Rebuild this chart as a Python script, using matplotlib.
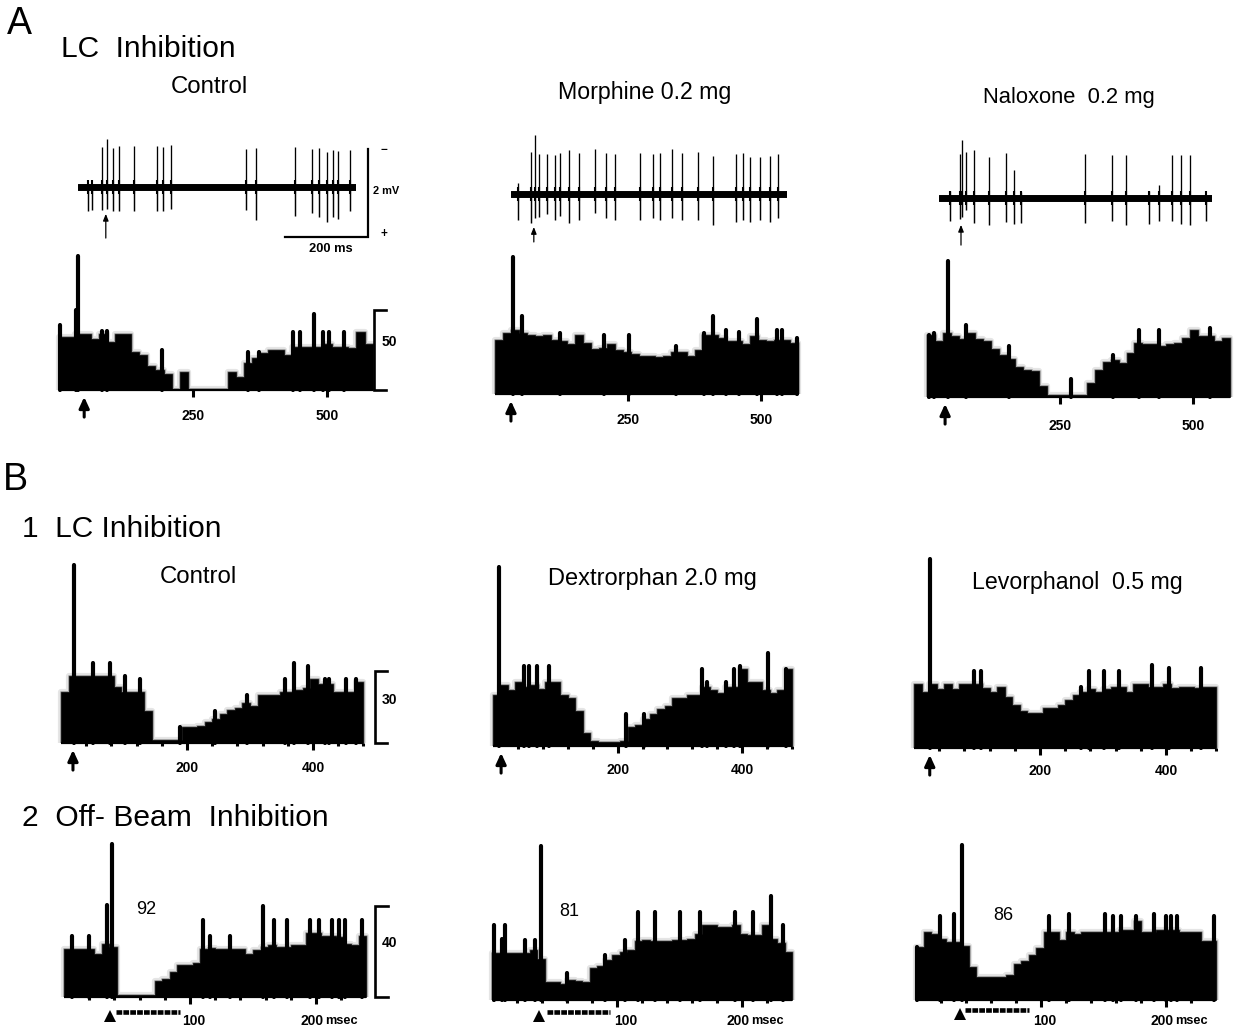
import matplotlib
matplotlib.use("Agg")
import matplotlib.pyplot as plt
import numpy as np

plt.rcParams['font.family'] = ['Liberation Sans', 'DejaVu Sans']
W, H = 1246, 1027
fig = plt.figure(figsize=(W / 100, H / 100), dpi=100, facecolor='white')

# ---------- histogram envelopes (counts per bin) and narrow peaks (ms, counts)
A1_base = [33,33,35,35,32,35,30,35,35,24,22,15,12.5,10,0.5,11,0.5,0.5,0.5,0.5,0.5,11,8,17,20,23,25,25,22,27,27,27,27,29,27,27,26,36,29]
A1_pt = [2,32,36,80,89,193,353,373,437,450,476,493,503,532]
A1_ph = [40.6,50,84,37,37,25,24,24,36,36,47.5,36,36,36]
A2_base = [34,38,40,38,37,36,37,34,33,31,37,32,28,28.5,31,27.5,26.5,25,24,24,23,24,26.5,26.5,24,27.5,37,37,35,33,33,31,36,34,33,34,34,32]
A2_pt = [33,51,123,205,252,341,393,410,435,459,492,531,540,568]
A2_ph = [85.4,49,38,37,37,30,38,49,40,39,47,40,40,35]
A3_base = [39,35,40,38,36,40,36,35,30,26,24,19,17,16,7,1.5,1,1,1.5,1.5,9,17,22,23,21,27.5,34,33,33,32,33,34,37,42,38,38,35,37]
A3_pt = [3,13,39,73,154,271,349,399,437,532]
A3_ph = [39,40,85,45,32,11,26.5,42,42,43]

B1_base = [19,25,25,25,25,25,25,21,19,19,19,12,1,1,1,1,6,6,6.5,8,9,11,12.5,13,15,14,18,18,18,19,19,20,20.6,24,22,22,19,19,19,23]
B1_pt = [21,51,78,102,126,189,245,295,356,370,392,419,426,452,469]
B1_ph = [66.6,30,30,25,24,6,12,18,24,30,29,24,24,24,24]
B2_base = [19,23,21,24,22,23,21.5,24,24,19,18,13,5,2,1.5,1.5,1.5,2,7,8,10,12,14,15,18,18,19,19,22,21,20,22,22,29,24,24,21,20,21,29]
B2_pt = [10,49,58,70,90,213,242,335,344,374,387,396,442,470]
B2_ph = [67,30,30,30,30,12,12,29,24,24,29,30,35,29]
B3_base = [24,21,24,22,24,22,24,24,24,22.5,21,23,19,16,14,13,13,15,15,16,18,20,21,22,21,22,23,23,21,24,24,23,23,24,22.5,23,23,22.5,23,23]
B3_pt = [26,95,107,265,277,302,325,378,405,456]
B3_ph = [70.6,29,29,23,29,29,29,31,30,30]

C1_base = [21,21,21,21,19,23.5,22,1,1,1,1,1,7,8,11,14,14,15,21,21.5,21,21,21,21,19,20.5,22,23,22,22,23,23,28,28,27,27,26.5,23.5,23,27]
C1_pt = [6,20,34,38,110.6,116,132,158,167,177,195,202,213,218.5,223,236.5]
C1_ph = [27,27,40.4,67.6,34,27,27,40,34,34,34,34,34,34,34,34]
C2_base = [20.6,20.6,20.6,20.6,20.6,22,18,8,8,7,9,8.5,8,14,15,17.6,20,21,22,26,26.5,26,26,26,26.5,26.5,27,29,33,33,32,32,33,29,28.7,28.7,33,27,25,21]
C2_pt = [1.3,8,10,26,34,39,60,90,106,117,130,150,166,194,209,223.5,233]
C2_ph = [33,27,33,26.5,26.5,68,12,20,26.5,38.7,38.7,38.7,38.7,38.7,38.7,45.6,33]
C3_base = [23.5,30,29,27,25.7,25.7,24,14.7,10,10,10,10,11,16,17,20,23,30,30,26.5,30,29,30,30,30,30,30,31,31,35,30,30,31,31,31,30,30,30,26,26]
C3_pt = [1,19,30,36.5,106,122,151,157.6,164,176,190,200,204,209,238]
C3_ph = [23.5,37,38,68.4,37,38,38,37,37,37,38,37,37,37,37]

# ---------- unit-activity traces: spike times (ms) with up / down amplitudes (mV)
T1_t = [24,34,58,70,84,99,135,190,205,224,405,429,523,564,581,600,614,627,655]
T1_up = [.03,.03,.92,1.1,.88,.94,.94,.94,.92,.96,.86,.88,.92,.86,.88,.79,.85,.81,.85]
T1_dn = [.55,.52,.52,.5,.55,.55,.55,.55,.54,.5,.52,.74,.67,.6,.68,.8,.68,.73,.55]
T2_t = [16,47,57,68,87,107,118,139,165,203,230,251,312,341,358,388,411,450,486,541,558,577,601,625,643]
T2_up = [.26,.96,1.34,.92,.92,.89,.94,1,.94,1.02,.94,.9,.94,.91,.94,1.02,.94,.96,.86,.9,.94,.85,.85,.86,.91]
T2_dn = [.58,.65,.55,.52,.45,.58,.5,.65,.58,.44,.55,.58,.58,.54,.59,.54,.58,.58,.7,.63,.59,.63,.6,.63,.54]
T3_t = [26,50,56,64,84,120,161,181,198,352,417,450,507,529,561,583,605,643]
T3_up = [.17,1,1.31,1.05,1.1,.93,1.02,.63,.14,1,.97,.97,.17,.29,.97,.97,.97,.04]
T3_dn = [.53,.47,.43,.28,.57,.62,.55,.58,.57,.57,.53,.62,.58,.53,.53,.58,.62,.52]
SCALE_MS, SCALE_MV = 200, 2

TICK_FS = 10

def make_axes(x0, sx, y0, sy, xlim, ylim):
    """Axes whose data origin sits at pixel (x0, y0) with sx, sy pixels per unit."""
    left = x0 + xlim[0] * sx
    bottom = y0 - ylim[0] * sy
    ax = fig.add_axes([left / W, 1 - bottom / H,
                       (xlim[1] - xlim[0]) * sx / W, (ylim[1] - ylim[0]) * sy / H])
    ax.set_xlim(*xlim); ax.set_ylim(*ylim)
    ax.patch.set_visible(False)
    for s in ax.spines.values():
        s.set_visible(False)
    ax.set_yticks([])
    return ax

def hist(x0, y0, sx, sy, base, pt, ph, bin_ms, tend, major, minor, pad, stim,
         bracket=None, bracket_label=None, msec=False, stim_bar=None, shift100=0):
    ymax = max(ph) * 1.02
    margin = 8 / sx
    ax = make_axes(x0, sx, y0, sy, (-margin, tend + margin), (0, ymax))
    edges = np.arange(len(base) + 1) * bin_ms
    vals = list(base) + [base[-1]]
    # soft scanned edge around the solid fill, cut off at the baseline
    for lw, a in ((4.5, 0.10), (2.2, 0.28)):
        ax.fill_between(edges, 0, vals, step='post', facecolor='none', edgecolor='black',
                        linewidth=lw, alpha=a, zorder=1)
    ax.fill_between(edges, 0, vals, step='post', color='black', linewidth=0.5, zorder=2)
    ax.vlines(pt, 0, ph, color='black', linewidth=3.0, zorder=3, capstyle='round', clip_on=False)
    ax.hlines(0, 0, len(base) * bin_ms, color='black', linewidth=1.6, zorder=3, clip_on=False)
    ax.set_xticks(major)
    labels = [str(v) for v in major]
    if msec:
        labels = ['', '']
    ax.set_xticklabels(labels, fontsize=TICK_FS, fontweight='bold')
    ax.set_xticks(minor, minor=True)
    ax.tick_params(axis='x', which='major', direction='out', length=5, width=2.2, pad=pad)
    ax.tick_params(axis='x', which='minor', direction='out', length=2, width=2.2)
    if msec:
        ax.annotate(str(major[0]), xy=(major[0], 0), xytext=(shift100, -5 - pad), textcoords='offset points',
                    ha='center', va='top', fontsize=TICK_FS, fontweight='bold', annotation_clip=False)
        ax.annotate('200', xy=(major[-1], 0), xytext=(-11, -5 - pad), textcoords='offset points',
                    ha='left', va='top', fontsize=TICK_FS, fontweight='bold', annotation_clip=False)
        ax.annotate('msec', xy=(major[-1], 0), xytext=(6.5, -5.6 - pad), textcoords='offset points',
                    ha='left', va='top', fontsize=TICK_FS - 0.8, fontweight='bold', annotation_clip=False)
    if stim_bar is None:
        ax.annotate('', xy=(stim, 0), xycoords='data', xytext=(0, -19.5), textcoords='offset points',
                    arrowprops=dict(arrowstyle='-|>,head_width=0.3,head_length=0.65', lw=2.2, color='black',
                                    shrinkA=0, shrinkB=5), annotation_clip=False)
    else:
        t1, t2, yb = stim_bar
        ax.plot([t1, t2], [yb, yb], color='black', lw=3.3, ls=(0, (1.25, 0.25)), clip_on=False)
        ax.plot([stim], [yb - 1.7], marker='^', ms=9, color='black', mew=0, clip_on=False)
    if bracket is not None:
        tb, dt = bracket
        ax.plot([tb + dt, tb, tb, tb + dt], [bracket_label[1], bracket_label[1], 0, 0],
                color='black', lw=1.9, clip_on=False, solid_joinstyle='miter')
        ax.annotate(bracket_label[0], xy=(tb, bracket_label[1] * 0.6), xytext=(5, 0), textcoords='offset points',
                    ha='left', va='center', fontsize=TICK_FS, fontweight='bold', annotation_clip=False)
    return ax

def trace(x0, y0, t, up, dn, tend, stim, y1, y2, scalebar=False):
    sx, sy = 0.415, 44.0
    ax = make_axes(x0, sx, y0, sy, (0, tend), (-1.4, 1.4))
    ax.set_xticks([])
    ax.plot([0, tend], [0, 0], color='black', lw=5, solid_capstyle='round', zorder=3)
    ax.vlines(t, 0, up, color='black', lw=0.95, clip_on=False)
    ax.vlines(t, -np.array(dn), 0, color='black', lw=1.05, clip_on=False)
    ax.vlines(t, -0.17, 0.17, color='black', lw=1.5, clip_on=False)
    ax.annotate('', xy=(stim, y1), xytext=(stim, y2),
                arrowprops=dict(arrowstyle='-|>,head_width=0.16,head_length=0.4', lw=0.9, color='black',
                                shrinkA=0, shrinkB=0), annotation_clip=False)
    if scalebar:
        xr = 699
        ybot = -1.14
        ax.plot([xr - SCALE_MS, xr, xr], [ybot, ybot, ybot + SCALE_MV], color='black', lw=1.6,
                clip_on=False, solid_joinstyle='miter')
        ax.text(xr - SCALE_MS / 2 + 10, ybot - 0.28, '200 ms', ha='center', va='center', fontsize=9.3, fontweight='bold', clip_on=False)
        ax.text(xr + 12, -0.09, '2 mV', ha='left', va='center', fontsize=7.9, fontweight='bold', clip_on=False)
        ax.text(xr + 38, 0.84, '−', ha='center', va='center', fontsize=8.5, fontweight='bold', clip_on=False)
        ax.text(xr + 38, -1.07, '+', ha='center', va='center', fontsize=8.5, fontweight='bold', clip_on=False)
    return ax

# traces
trace(78, 187, T1_t, T1_up, T1_dn, 670, 67, -0.61, -1.16, scalebar=True)
trace(511, 194, T2_t, T2_up, T2_dn, 665, 55, -0.75, -1.09)
trace(939, 198, T3_t, T3_up, T3_dn, 658, 53, -0.61, -1.07)

# section A histograms
hist(59, 390, 0.536, 1.6, A1_base, A1_pt, A1_ph, 15, 575, [250, 500], [], 9, 47,
     bracket=(588, 22), bracket_label=('50', 50))
hist(495, 394, 0.532, 1.6, A2_base, A2_pt, A2_ph, 15, 577, [250, 500], [], 8.5, 30)
hist(927, 397, 0.532, 1.6, A3_base, A3_pt, A3_ph, 15, 570, [250, 500], [], 10.5, 34)

# section B1 histograms
m40 = [40, 80, 120, 160, 240, 280, 320, 360, 440, 480]
hist(61, 743, 0.63, 2.67, B1_base, B1_pt, B1_ph, 12, 482, [200, 400], m40, 8, 19,
     bracket=(498, 19), bracket_label=('30', 27))
hist(493, 746, 0.623, 2.67, B2_base, B2_pt, B2_ph, 12, 480, [200, 400], m40, 7, 13)
hist(914, 748, 0.63, 2.67, B3_base, B3_pt, B3_ph, 12, 481, [200, 400], m40, 6.5, 25)

# section B2 histograms
m20 = [20, 40, 60, 80, 120, 140, 160, 180, 220]
hist(64, 997, 1.26, 2.27, C1_base, C1_pt, C1_ph, 6, 239, [100, 200], m20, 7, 36.5,
     bracket=(247, 10), bracket_label=('40', 40), msec=True, stim_bar=(41, 92, -6.6), shift100=2.5)
hist(492, 1000, 1.25, 2.27, C2_base, C2_pt, C2_ph, 6, 240, [100, 200], m20, 5, 37.6,
     msec=True, stim_bar=(44, 94, -5.3), shift100=6)
hist(916, 1000, 1.25, 2.27, C3_base, C3_pt, C3_ph, 6, 242, [100, 200], m20, 5, 35,
     msec=True, stim_bar=(39, 90, -4.4), shift100=2.5)

def label(x, y, s, size, ha='left', **kw):
    fig.text(x / W, 1 - y / H, s, fontsize=size, ha=ha, va='center', **kw)

label(7, 24, 'A', 27)
label(3, 480, 'B', 27)
label(61, 49, 'LC  Inhibition', 21.5)
label(171, 87, 'Control', 17.3)
label(558, 93, 'Morphine 0.2 mg', 16.7)
label(983, 97, 'Naloxone  0.2 mg', 15.8)
label(22, 529, '1  LC Inhibition', 21.5)
label(160, 577, 'Control', 17.3)
label(548, 579, 'Dextrorphan 2.0 mg', 17)
label(972, 583, 'Levorphanol  0.5 mg', 16.7)
label(22, 818, '2  Off- Beam  Inhibition', 21.6)
label(146, 910, '92', 13, ha='center')
label(569, 911, '81', 13, ha='center')
label(1003, 916, '86', 13, ha='center')

fig.savefig('out.png', dpi=100, facecolor='white')
